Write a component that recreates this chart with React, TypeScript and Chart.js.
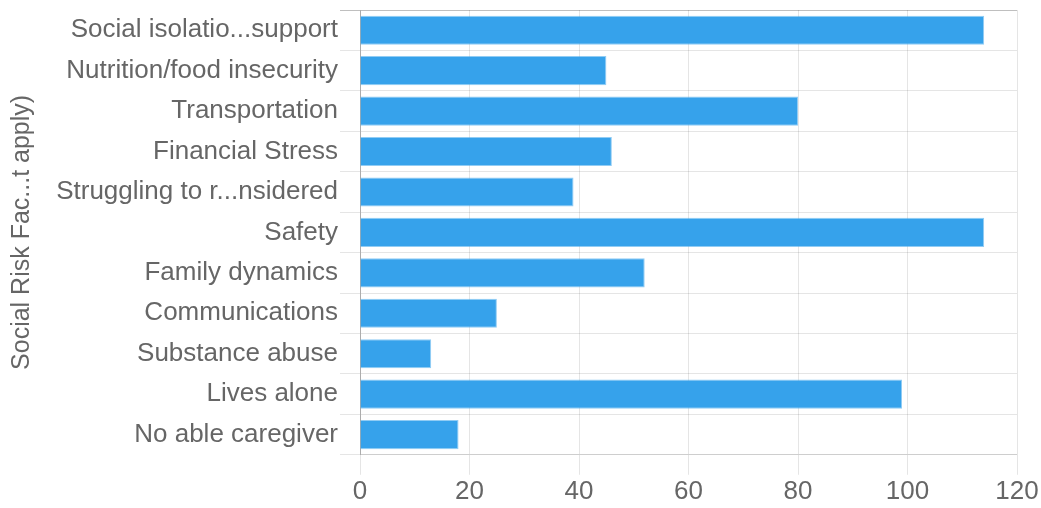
import React, { useEffect, useRef } from "react";
import { Chart, registerables } from "chart.js";

Chart.register(...registerables);

const categories = [
  "Social isolatio...support",
  "Nutrition/food insecurity",
  "Transportation",
  "Financial Stress",
  "Struggling to r...nsidered",
  "Safety",
  "Family dynamics",
  "Communications",
  "Substance abuse",
  "Lives alone",
  "No able caregiver",
];

const counts = [114, 45, 80, 46, 39, 114, 52, 25, 13, 99, 18];

const xTickMin = 0;
const xTickMax = 120;
const xTickStep = 20;

const yAxisTitle = "Social Risk Fac...t apply)";

export default function App() {
  const canvasRef = useRef<HTMLCanvasElement | null>(null);

  useEffect(() => {
    if (!canvasRef.current) return;
    const family = "'Liberation Sans', Arial, Helvetica, sans-serif";
    const xFont = { family, size: 26 };
    const yFont = { family, size: 26, lineHeight: 0.6 };
    const titleFont = { family, size: 25 };
    const chart = new Chart(canvasRef.current, {
      type: "bar",
      data: {
        labels: categories,
        datasets: [
          {
            data: counts,
            backgroundColor: "#36A2EB",
            borderColor: "rgba(54,162,235,0.55)",
            borderWidth: 1,
          },
        ],
      },
      options: {
        indexAxis: "y",
        animation: false,
        responsive: false,
        maintainAspectRatio: false,
        layout: { padding: { top: 10, right: 24, left: 0, bottom: 0 } },
        plugins: {
          legend: { display: false },
          tooltip: { enabled: false },
        },
        scales: {
          x: {
            min: xTickMin,
            max: xTickMax,
            ticks: { stepSize: xTickStep, color: "#666", font: xFont, padding: 1 },
            grid: { color: "rgba(0,0,0,0.1)", tickLength: 20 },
            border: { color: "rgba(0,0,0,0.1)" },
          },
          y: {
            ticks: { color: "#666", font: yFont, padding: 2 },
            grid: {
              color: (ctx: any) => (ctx.index === 0 ? "rgba(0,0,0,0.25)" : "rgba(0,0,0,0.1)"),
              tickLength: 20,
            },
            border: { color: "rgba(0,0,0,0.25)" },
            title: {
              display: true,
              text: yAxisTitle,
              color: "#666",
              font: titleFont,
              padding: { top: 7, bottom: 0 },
            },
            afterFit: (scale: any) => {
              scale.width = 360;
            },
          },
        },
      },
    });
    return () => chart.destroy();
  }, []);

  return (
    <div style={{ position: "absolute", left: 0, top: 0, width: 1041, height: 508, background: "#fff" }}>
      <canvas ref={canvasRef} width={1041} height={508} style={{ width: 1041, height: 508 }} />
    </div>
  );
}
